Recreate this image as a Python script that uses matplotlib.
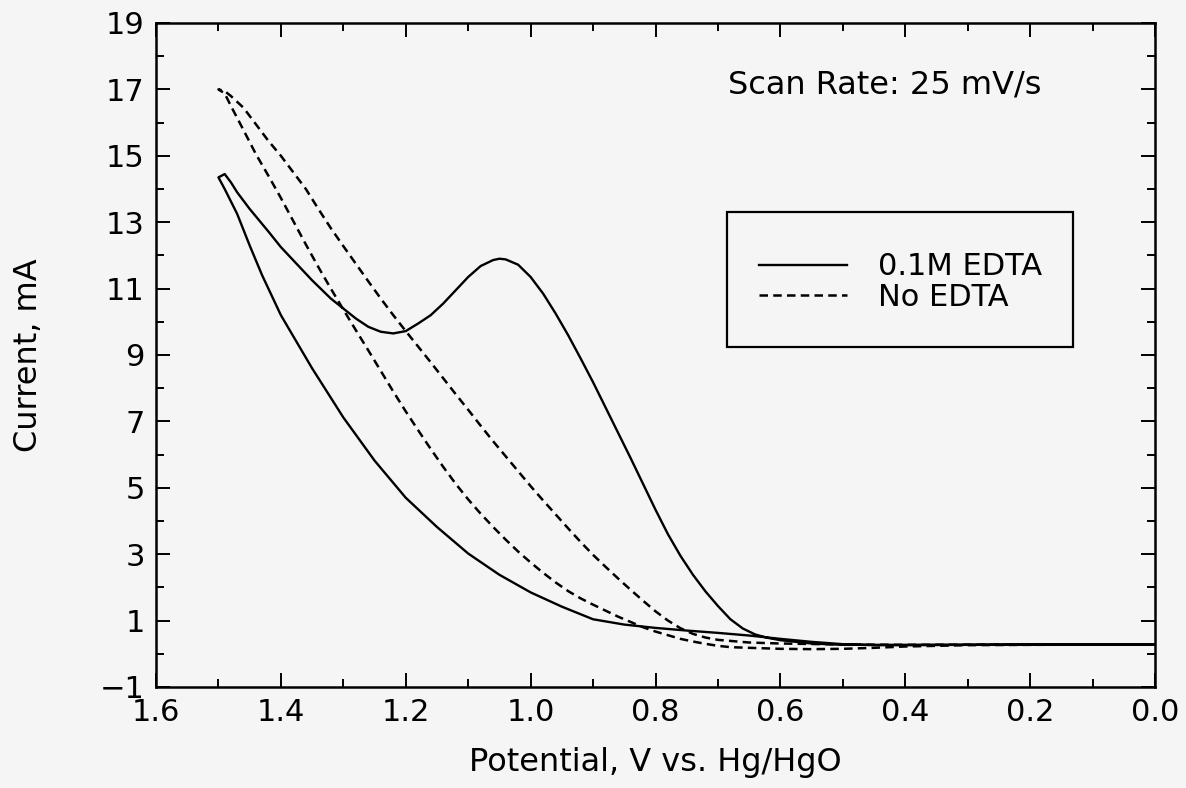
import matplotlib
matplotlib.use("Agg")
import matplotlib.pyplot as plt
from matplotlib.patches import Rectangle
from matplotlib.ticker import MultipleLocator, FixedLocator

# ---------------- data ----------------
# 0.1 M EDTA: scan up (lower branch), then back (branch with peak)
edta_v_up = [0.00, 0.10, 0.20, 0.30, 0.40, 0.45, 0.50, 0.55, 0.60, 0.65, 0.70, 0.75,
             0.80, 0.85, 0.90, 0.95, 1.00, 1.05, 1.10, 1.15, 1.20, 1.25, 1.30, 1.35,
             1.40, 1.43, 1.45, 1.47, 1.49, 1.50]
edta_i_up = [0.28, 0.28, 0.27, 0.27, 0.26, 0.26, 0.29, 0.36, 0.45, 0.55, 0.63, 0.70,
             0.78, 0.88, 1.04, 1.42, 1.85, 2.38, 3.02, 3.82, 4.70, 5.82, 7.12, 8.60,
             10.20, 11.40, 12.30, 13.25, 14.00, 14.35]
edta_v_down = [1.50, 1.49, 1.48, 1.47, 1.45, 1.42, 1.40, 1.37, 1.35, 1.32, 1.30, 1.28,
               1.26, 1.24, 1.22, 1.20, 1.18, 1.16, 1.14, 1.12, 1.10, 1.08, 1.06, 1.05,
               1.04, 1.02, 1.00, 0.98, 0.96, 0.94, 0.92, 0.90, 0.88, 0.86, 0.84, 0.82,
               0.80, 0.78, 0.76, 0.74, 0.72, 0.70, 0.68, 0.66, 0.64, 0.62, 0.60, 0.55,
               0.50, 0.40, 0.30, 0.20, 0.10, 0.00]
edta_i_down = [14.35, 14.45, 14.20, 13.90, 13.40, 12.72, 12.25, 11.65, 11.25, 10.70, 10.40, 10.10,
               9.85, 9.70, 9.65, 9.72, 9.95, 10.20, 10.55, 10.95, 11.35, 11.68, 11.86, 11.90,
               11.88, 11.72, 11.35, 10.85, 10.25, 9.60, 8.90, 8.18, 7.42, 6.66, 5.90, 5.12,
               4.34, 3.60, 2.95, 2.38, 1.88, 1.44, 1.04, 0.76, 0.58, 0.48, 0.41, 0.31,
               0.27, 0.27, 0.27, 0.28, 0.28, 0.28]

# No EDTA: scan up, then back
noedta_v_up = [0.00, 0.20, 0.30, 0.40, 0.45, 0.50, 0.55, 0.60, 0.65, 0.68, 0.70, 0.72,
               0.74, 0.76, 0.78, 0.80, 0.82, 0.84, 0.86, 0.88, 0.90, 0.92, 0.94, 0.96,
               0.98, 1.00, 1.02, 1.04, 1.06, 1.08, 1.10, 1.12, 1.14, 1.16, 1.18, 1.20,
               1.22, 1.24, 1.26, 1.28, 1.30, 1.32, 1.34, 1.36, 1.38, 1.40, 1.42, 1.44,
               1.46, 1.48, 1.49, 1.50]
noedta_i_up = [0.28, 0.27, 0.26, 0.22, 0.18, 0.15, 0.14, 0.15, 0.18, 0.20, 0.24, 0.30,
               0.37, 0.45, 0.56, 0.67, 0.80, 0.96, 1.12, 1.30, 1.48, 1.67, 1.89, 2.15,
               2.44, 2.75, 3.08, 3.44, 3.82, 4.22, 4.65, 5.12, 5.63, 6.17, 6.73, 7.30,
               7.90, 8.52, 9.14, 9.75, 10.37, 11.00, 11.65, 12.33, 13.03, 13.73, 14.40, 15.05,
               15.78, 16.50, 16.88, 17.00]
noedta_v_down = [1.50, 1.49, 1.48, 1.46, 1.44, 1.42, 1.40, 1.38, 1.36, 1.34, 1.32, 1.30,
                 1.28, 1.26, 1.24, 1.22, 1.20, 1.18, 1.16, 1.14, 1.12, 1.10, 1.08, 1.06,
                 1.04, 1.02, 1.00, 0.98, 0.96, 0.94, 0.92, 0.90, 0.88, 0.86, 0.84, 0.82,
                 0.80, 0.78, 0.76, 0.74, 0.72, 0.70, 0.65, 0.60, 0.50, 0.40, 0.20, 0.00]
noedta_i_down = [17.00, 16.95, 16.80, 16.45, 15.95, 15.45, 15.00, 14.50, 14.00, 13.40, 12.82, 12.28,
                 11.75, 11.22, 10.70, 10.20, 9.72, 9.25, 8.78, 8.30, 7.82, 7.35, 6.87, 6.40,
                 5.95, 5.50, 5.05, 4.62, 4.20, 3.78, 3.37, 2.98, 2.62, 2.27, 1.93, 1.60,
                 1.28, 1.00, 0.77, 0.60, 0.49, 0.42, 0.34, 0.31, 0.28, 0.27, 0.28, 0.28]

x_ticks = [1.6, 1.4, 1.2, 1.0, 0.8, 0.6, 0.4, 0.2, 0.0]
y_ticks = [-1, 1, 3, 5, 7, 9, 11, 13, 15, 17, 19]
series_labels = ["0.1M EDTA", "No EDTA"]
x_label = "Potential, V vs. Hg/HgO"
y_label = "Current, mA"
note = "Scan Rate: 25 mV/s"

# ---------------- figure ----------------
bg = "#f5f5f5"
plt.rcParams["font.family"] = ["DejaVu Sans"]
fig = plt.figure(figsize=(11.86, 7.88), dpi=100, facecolor=bg)
ax = fig.add_axes([156 / 1186, 1 - 687 / 788, 999 / 1186, 664 / 788])
ax.set_facecolor(bg)

ax.plot(edta_v_up + edta_v_down, edta_i_up + edta_i_down, color="black", lw=1.7,
        label=series_labels[0], solid_joinstyle="round")
ax.plot(noedta_v_up + noedta_v_down, noedta_i_up + noedta_i_down, color="black", lw=1.8,
        linestyle=(0, (3.4, 2.1)), label=series_labels[1])

ax.set_xlim(1.6, 0.0)
ax.set_ylim(-1, 19)
ax.xaxis.set_major_locator(FixedLocator(x_ticks))
ax.xaxis.set_minor_locator(MultipleLocator(0.1))
ax.yaxis.set_major_locator(FixedLocator(y_ticks))
ax.yaxis.set_minor_locator(FixedLocator(list(range(0, 19, 2))))
ax.set_xticklabels([f"{v:.1f}" for v in x_ticks])
ax.set_yticklabels([f"{v:d}".replace("-", "\u2212") for v in y_ticks])

ax.tick_params(which="both", direction="in", top=True, right=True, width=1.4,
               colors="black", labelsize=22)
ax.tick_params(which="major", length=10)
ax.tick_params(which="minor", length=5.5)
ax.tick_params(axis="x", which="major", pad=8)
ax.tick_params(axis="y", which="major", pad=8)
for s in ax.spines.values():
    s.set_linewidth(1.8)

ax.set_xlabel(x_label, fontsize=23, labelpad=14)
ax.set_ylabel(y_label, fontsize=23, labelpad=40)

ax.text(0.5726, 0.9066, note, transform=ax.transAxes, fontsize=23,
        ha="left", va="center")

# legend box
ax.add_patch(Rectangle((0.5716, 0.512), 0.3464, 0.2036, transform=ax.transAxes,
                       facecolor="none", edgecolor="black", lw=1.6, zorder=5))
leg = ax.legend(loc="center", bbox_to_anchor=(0.745, 0.61), frameon=False,
                fontsize=22, handlelength=2.9, handletextpad=1.0,
                labelspacing=0.05, borderpad=0)

fig.savefig("out.png", dpi=100, facecolor=bg)
